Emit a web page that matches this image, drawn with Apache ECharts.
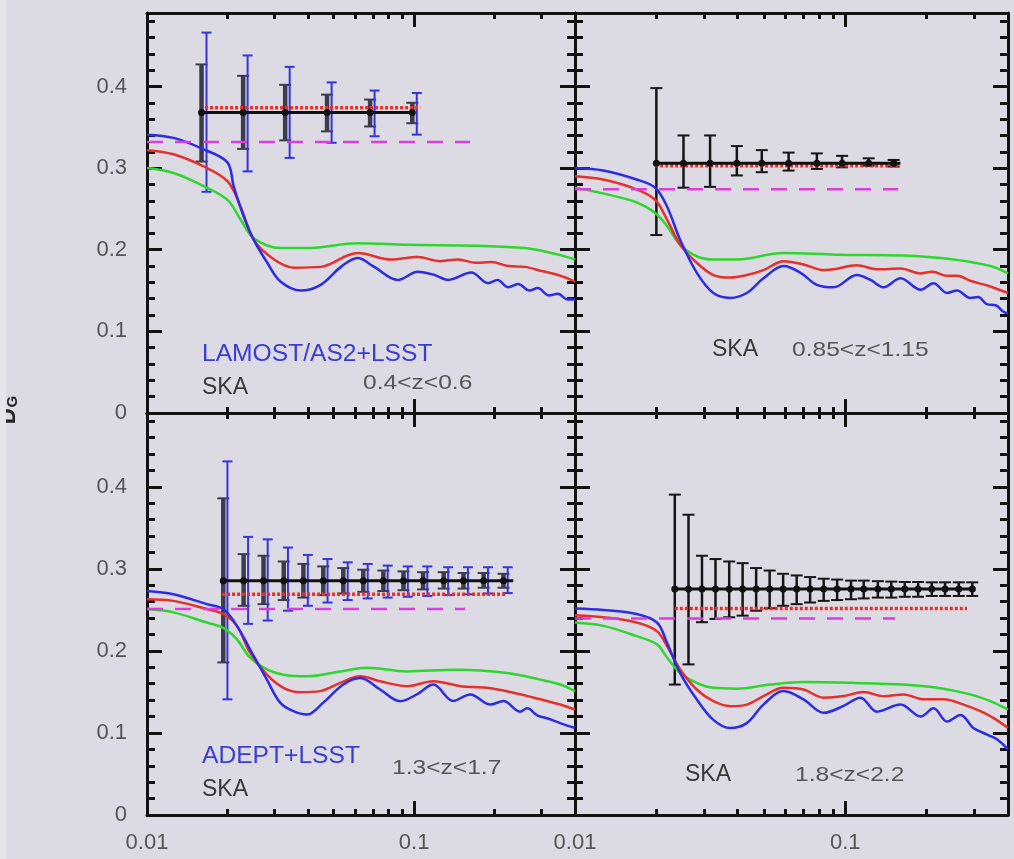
<!DOCTYPE html>
<html>
<head>
<meta charset="utf-8">
<script src="https://cdn.jsdelivr.net/npm/echarts@6/dist/echarts.min.js"></script>
<style>
  html, body { margin: 0; padding: 0; background: #dcdae3; }
  #chart { width: 1014px; height: 859px; }
</style>
</head>
<body>
<div id="chart"></div>
<script>
// ---------- axis ticks ----------
const xLabels = [0.01, 0.1];
const xMajor = [0.1];
const xMinor = [0.02, 0.03, 0.04, 0.05, 0.06, 0.07, 0.08, 0.09, 0.2, 0.3];
const yLabels = [0, 0.1, 0.2, 0.3, 0.4];
const yMajor = [0.1, 0.2, 0.3, 0.4];
const yMinor = [0.02, 0.04, 0.06, 0.08, 0.12, 0.14, 0.16, 0.18, 0.22, 0.24, 0.26, 0.28,
                0.32, 0.34, 0.36, 0.38, 0.42, 0.44, 0.46, 0.48];

// ---------- top left: 0.4<z<0.6 ----------
const tlBlue = [[0.01, 0.341], [0.01256, 0.337], [0.0163, 0.323], [0.02, 0.307], [0.0211, 0.278],
  [0.023, 0.241], [0.0251, 0.212], [0.0282, 0.184], [0.0316, 0.161], [0.0376, 0.150], [0.0447, 0.157],
  [0.0532, 0.179], [0.0614, 0.190], [0.0709, 0.179], [0.0869, 0.163], [0.1032, 0.173], [0.1192, 0.169],
  [0.1339, 0.163], [0.1637, 0.172], [0.189, 0.159], [0.205, 0.163], [0.225, 0.154], [0.245, 0.158],
  [0.27, 0.150], [0.29, 0.153], [0.32, 0.144], [0.345, 0.146], [0.375, 0.139], [0.40, 0.139]];
const tlRed = [[0.01, 0.322], [0.01256, 0.317], [0.0163, 0.302], [0.02, 0.284], [0.0224, 0.253],
  [0.0251, 0.212], [0.0299, 0.188], [0.0355, 0.178], [0.0447, 0.179], [0.0614, 0.196], [0.082, 0.188],
  [0.1032, 0.191], [0.125, 0.186], [0.146, 0.188], [0.17, 0.184], [0.1946, 0.185], [0.225, 0.180],
  [0.26, 0.179], [0.30, 0.174], [0.346, 0.169], [0.40, 0.161]];
const tlGreen = [[0.01, 0.300], [0.01256, 0.294], [0.0163, 0.278], [0.02, 0.261], [0.0224, 0.237],
  [0.0251, 0.214], [0.0316, 0.202], [0.0398, 0.202], [0.0614, 0.208], [0.0947, 0.206], [0.1686, 0.205],
  [0.26, 0.202], [0.346, 0.194], [0.40, 0.188]];
const tlMagenta = [[0.01, 0.332], [0.162, 0.332]];
const tlDotted = [[0.0165, 0.374], [0.1055, 0.374]];
const tlMid = 0.368;
const tlMidSpan = [0.016, 0.1];
const tlBlackX = [0.016, 0.0229, 0.0329, 0.0472, 0.0684, 0.0984];
const tlBlack = [[0.308, 0.427], [0.3235, 0.413], [0.334, 0.402], [0.345, 0.390], [0.351, 0.384], [0.355, 0.380]];
const tlBlueX = [0.0167, 0.0238, 0.0342, 0.0491, 0.0711, 0.1023];
const tlBlueBars = [[0.271, 0.466], [0.296, 0.438], [0.3125, 0.424], [0.331, 0.405], [0.339, 0.395], [0.341, 0.392]];

// ---------- top right: 0.85<z<1.15 ----------
const trBlue = [[0.01, 0.300], [0.0127, 0.297], [0.0169, 0.286], [0.0198, 0.276], [0.0219, 0.253],
  [0.0245, 0.212], [0.0282, 0.172], [0.0325, 0.147], [0.0375, 0.141], [0.0432, 0.147], [0.0498, 0.165],
  [0.0591, 0.180], [0.0681, 0.172], [0.0785, 0.157], [0.0905, 0.154], [0.1104, 0.169], [0.124, 0.163],
  [0.1387, 0.154], [0.16, 0.165], [0.19, 0.151], [0.212, 0.159], [0.238, 0.147], [0.259, 0.150],
  [0.29, 0.141], [0.31, 0.142], [0.335, 0.133], [0.36, 0.132], [0.385, 0.124], [0.40, 0.122]];
const trRed = [[0.01, 0.290], [0.0127, 0.286], [0.0169, 0.274], [0.0198, 0.261], [0.0219, 0.237],
  [0.0245, 0.206], [0.0282, 0.184], [0.0325, 0.169], [0.0375, 0.166], [0.0432, 0.169], [0.0498, 0.175],
  [0.0591, 0.186], [0.0701, 0.182], [0.0832, 0.175], [0.0905, 0.176], [0.1104, 0.181], [0.131, 0.176],
  [0.16, 0.177], [0.19, 0.171], [0.21, 0.173], [0.238, 0.168], [0.26, 0.168], [0.29, 0.162],
  [0.344, 0.155], [0.40, 0.147]];
const trGreen = [[0.01, 0.276], [0.0127, 0.269], [0.0169, 0.258], [0.0198, 0.245], [0.0219, 0.229],
  [0.0245, 0.206], [0.0282, 0.192], [0.0325, 0.188], [0.0397, 0.188], [0.0591, 0.196], [0.093, 0.194],
  [0.164, 0.193], [0.252, 0.188], [0.344, 0.180], [0.40, 0.171]];
const trMagenta = [[0.01, 0.274], [0.157, 0.274]];
const trDotted = [[0.0198, 0.303], [0.157, 0.303]];
const trMid = 0.306;
const trMidSpan = [0.0198, 0.160];
const trBlackX = [0.02, 0.0252, 0.0316, 0.0397, 0.0491, 0.0617, 0.0785, 0.0973, 0.122, 0.151];
const trBlack = [[0.218, 0.398], [0.276, 0.340], [0.277, 0.340], [0.291, 0.327], [0.295, 0.322],
  [0.297, 0.319], [0.299, 0.318], [0.301, 0.315], [0.303, 0.312], [0.302, 0.310]];

// ---------- bottom left: 1.3<z<1.7 ----------
const blBlue = [[0.01, 0.273], [0.01256, 0.269], [0.01675, 0.257], [0.0193, 0.251], [0.0217, 0.2305],
  [0.0243, 0.202], [0.0281, 0.165], [0.0315, 0.137], [0.0353, 0.1265], [0.0397, 0.1224], [0.0457, 0.137],
  [0.0543, 0.159], [0.0628, 0.167], [0.0746, 0.153], [0.0887, 0.1387], [0.1024, 0.147], [0.118, 0.159],
  [0.14, 0.139], [0.162, 0.147], [0.193, 0.1346], [0.216, 0.139], [0.249, 0.126], [0.265, 0.130],
  [0.29, 0.121], [0.314, 0.118], [0.352, 0.112], [0.40, 0.106]];
const blRed = [[0.01, 0.263], [0.01256, 0.261], [0.01675, 0.251], [0.0193, 0.245], [0.0217, 0.2305],
  [0.0243, 0.198], [0.0281, 0.171], [0.0324, 0.155], [0.0374, 0.1497], [0.0445, 0.151], [0.0529, 0.161],
  [0.0628, 0.169], [0.0746, 0.163], [0.094, 0.157], [0.118, 0.163], [0.149, 0.157], [0.187, 0.155],
  [0.2355, 0.149], [0.2966, 0.141], [0.352, 0.1346], [0.40, 0.1285]];
const blGreen = [[0.01, 0.251], [0.01256, 0.247], [0.01675, 0.2346], [0.0193, 0.228], [0.0217, 0.214],
  [0.0243, 0.192], [0.0281, 0.1775], [0.0324, 0.171], [0.0397, 0.169], [0.0529, 0.175], [0.0665, 0.1795],
  [0.094, 0.175], [0.1445, 0.177], [0.2225, 0.173], [0.2966, 0.165], [0.352, 0.159], [0.40, 0.151]];
const blMagenta = [[0.01, 0.251], [0.155, 0.251]];
const blDotted = [[0.0191, 0.269], [0.222, 0.269]];
const blMid = 0.2856;
const blMidSpan = [0.0188, 0.235];
const blBlackX = [0.0193, 0.023, 0.0273, 0.0325, 0.0385, 0.0457, 0.0543, 0.0645, 0.0767, 0.0912,
  0.108, 0.129, 0.153, 0.182, 0.216];
const blBlack = [[0.186, 0.386], [0.255, 0.318], [0.257, 0.316], [0.262, 0.309], [0.265, 0.306],
  [0.268, 0.303], [0.270, 0.301], [0.272, 0.299], [0.273, 0.298], [0.274, 0.297], [0.275, 0.296],
  [0.276, 0.296], [0.276, 0.295], [0.277, 0.295], [0.277, 0.294]];
const blBlueX = [0.02, 0.0239, 0.0283, 0.0337, 0.04, 0.0474, 0.0564, 0.067, 0.0796, 0.0947,
  0.112, 0.134, 0.159, 0.189, 0.224];
const blBlueBars = [[0.141, 0.431], [0.233, 0.339], [0.237, 0.336], [0.249, 0.326], [0.255, 0.317],
  [0.259, 0.312], [0.262, 0.308], [0.264, 0.306], [0.265, 0.304], [0.266, 0.303], [0.267, 0.303],
  [0.268, 0.302], [0.269, 0.302], [0.270, 0.302], [0.2705, 0.302]];

// ---------- bottom right: 1.8<z<2.2 ----------
const brBlue = [[0.01, 0.2518], [0.01274, 0.250], [0.0169, 0.245], [0.0201, 0.2346], [0.0219, 0.210],
  [0.0245, 0.173], [0.0282, 0.141], [0.0325, 0.116], [0.0375, 0.106], [0.0432, 0.112], [0.0498, 0.1346],
  [0.059, 0.151], [0.070, 0.141], [0.0832, 0.1245], [0.0986, 0.133], [0.1137, 0.143], [0.131, 0.126],
  [0.16, 0.1346], [0.19, 0.120], [0.212, 0.130], [0.238, 0.114], [0.267, 0.122], [0.298, 0.106],
  [0.335, 0.098], [0.365, 0.092], [0.40, 0.080]];
const brRed = [[0.01, 0.2436], [0.01274, 0.241], [0.0169, 0.2346], [0.0201, 0.224], [0.0219, 0.206],
  [0.0245, 0.1775], [0.0282, 0.153], [0.0325, 0.1387], [0.0375, 0.1326], [0.0432, 0.1346],
  [0.0498, 0.1448], [0.059, 0.155], [0.070, 0.153], [0.0832, 0.143], [0.0986, 0.145], [0.117, 0.150],
  [0.139, 0.1448], [0.164, 0.147], [0.195, 0.141], [0.231, 0.141], [0.274, 0.1346], [0.316, 0.1265],
  [0.354, 0.118], [0.40, 0.106]];
const brGreen = [[0.01, 0.2346], [0.01274, 0.2305], [0.0169, 0.218], [0.0201, 0.208], [0.0219, 0.192],
  [0.0245, 0.173], [0.0282, 0.161], [0.0325, 0.155], [0.0397, 0.154], [0.0527, 0.159], [0.070, 0.162],
  [0.1074, 0.161], [0.164, 0.159], [0.219, 0.155], [0.29, 0.147], [0.344, 0.1387], [0.40, 0.1285]];
const brMagenta = [[0.01, 0.2395], [0.153, 0.2395]];
const brDotted = [[0.0234, 0.2518], [0.282, 0.2518]];
const brMid = 0.2754;
const brMidSpan = [0.0234, 0.303];
const brBlackX = [0.0234, 0.0263, 0.0295, 0.0331, 0.0372, 0.0417, 0.0468, 0.0525, 0.0589, 0.0661,
  0.0741, 0.0832, 0.0933, 0.105, 0.117, 0.132, 0.148, 0.166, 0.186, 0.209, 0.234, 0.263, 0.295];
const brBlack = [[0.159, 0.3905], [0.1836, 0.366], [0.235, 0.316], [0.239, 0.312], [0.241, 0.309],
  [0.243, 0.307], [0.249, 0.301], [0.252, 0.298], [0.255, 0.294], [0.257, 0.292], [0.259, 0.290],
  [0.261, 0.288], [0.262, 0.287], [0.263, 0.2857], [0.264, 0.2857], [0.265, 0.285], [0.265, 0.2845],
  [0.266, 0.284], [0.266, 0.284], [0.267, 0.2836], [0.267, 0.2836], [0.267, 0.2836], [0.267, 0.2836]];

// ---------- layout ----------
const grids = [
  {left: 147, top: 13, width: 428, height: 400},
  {left: 575, top: 13, width: 433, height: 400},
  {left: 147, top: 413, width: 428, height: 402},
  {left: 575, top: 413, width: 433, height: 402}
];

const panels = [
  {blue: tlBlue, red: tlRed, green: tlGreen, magenta: tlMagenta, dotted: tlDotted, mid: tlMid, midSpan: tlMidSpan,
    blackX: tlBlackX, black: tlBlack, blueX: tlBlueX, blueBars: tlBlueBars, xl: false, yl: true, heavy: true},
  {blue: trBlue, red: trRed, green: trGreen, magenta: trMagenta, dotted: trDotted, mid: trMid, midSpan: trMidSpan,
    blackX: trBlackX, black: trBlack, xl: false, yl: false, heavy: false},
  {blue: blBlue, red: blRed, green: blGreen, magenta: blMagenta, dotted: blDotted, mid: blMid, midSpan: blMidSpan,
    blackX: blBlackX, black: blBlack, blueX: blBlueX, blueBars: blBlueBars, xl: true, yl: true, heavy: true},
  {blue: brBlue, red: brRed, green: brGreen, magenta: brMagenta, dotted: brDotted, mid: brMid, midSpan: brMidSpan,
    blackX: brBlackX, black: brBlack, xl: true, yl: false, heavy: false}
];

const FONT = '"Liberation Sans", Arial, sans-serif';
const tickStyle = {color: '#111', width: 3};
const labelStyle = {color: '#555', fontSize: 22, fontFamily: FONT};

function makeXAxes(g, withLabels) {
  const base = {type: 'log', logBase: 10, gridIndex: g, min: 0.01, max: 0.4, splitLine: {show: false}};
  const major = (pos, labels) => ({
    ...base, position: pos,
    axisLine: {show: true, onZero: false, lineStyle: tickStyle},
    axisTick: {show: true, inside: true, length: 14, customValues: xMajor, lineStyle: tickStyle},
    axisLabel: {show: labels, customValues: xLabels, margin: 17, ...labelStyle,
      formatter: v => (v < 0.05 ? '0.01' : '0.1')}
  });
  const minor = pos => ({
    ...base, position: pos,
    axisLine: {show: false, onZero: false},
    axisTick: {show: true, inside: true, length: 6, customValues: xMinor, lineStyle: tickStyle},
    axisLabel: {show: false}
  });
  return [major('bottom', withLabels), minor('bottom'), major('top', false), minor('top')];
}

function makeYAxes(g, withLabels) {
  const base = {type: 'value', gridIndex: g, min: 0, max: 0.49, splitLine: {show: false}};
  const major = (pos, labels) => ({
    ...base, position: pos,
    axisLine: {show: true, onZero: false, lineStyle: tickStyle},
    axisTick: {show: true, inside: true, length: 15, customValues: yMajor, lineStyle: tickStyle},
    axisLabel: {show: labels, customValues: yLabels, margin: 20, ...labelStyle,
      formatter: v => (v === 0 ? '0' : v.toFixed(1))}
  });
  const minor = pos => ({
    ...base, position: pos,
    axisLine: {show: false, onZero: false},
    axisTick: {show: true, inside: true, length: 8, customValues: yMinor, lineStyle: tickStyle},
    axisLabel: {show: false}
  });
  return [major('left', withLabels), minor('left'), major('right', false), minor('right')];
}

// vertical error bar with caps, placed through the axis scales
function errorBars(color, width, cap) {
  return function (params, api) {
    const lo = api.coord([api.value(0), api.value(1)]);
    const hi = api.coord([api.value(0), api.value(2)]);
    const capStyle = {stroke: color, lineWidth: 2};
    return {
      type: 'group',
      children: [
        {type: 'line', shape: {x1: lo[0], y1: lo[1], x2: hi[0], y2: hi[1]}, style: {stroke: color, lineWidth: width}},
        {type: 'line', shape: {x1: lo[0] - cap, y1: lo[1], x2: lo[0] + cap, y2: lo[1]}, style: capStyle},
        {type: 'line', shape: {x1: hi[0] - cap, y1: hi[1], x2: hi[0] + cap, y2: hi[1]}, style: capStyle}
      ]
    };
  };
}

const xAxis = [];
const yAxis = [];
const series = [];

panels.forEach((p, g) => {
  xAxis.push(...makeXAxes(g, p.xl));
  yAxis.push(...makeYAxes(g, p.yl));
  const ax = {xAxisIndex: 4 * g, yAxisIndex: 4 * g};
  const curve = (data, color) => ({
    type: 'line', ...ax, data, symbol: 'none', smooth: 0.35,
    lineStyle: {color, width: 2.5}
  });
  series.push(curve(p.green, '#2fd62f'));
  series.push(curve(p.red, '#e5302c'));
  series.push(curve(p.blue, '#2c2ce4'));
  series.push({type: 'line', ...ax, data: p.magenta, symbol: 'none',
    lineStyle: {color: '#dc3ddc', width: 2.5, type: [16, 12]}});
  series.push({type: 'line', ...ax, data: p.dotted, symbol: 'none',
    lineStyle: {color: '#e5302c', width: 3.5, type: [3, 2]}});
  series.push({type: 'custom', ...ax, encode: {x: 0, y: [1, 2]},
    renderItem: errorBars(p.heavy ? '#3c3c4c' : '#151515', p.heavy ? 4.5 : 2.5, 6),
    data: p.blackX.map((x, i) => [x, p.black[i][0], p.black[i][1]])});
  if (p.blueX) {
    series.push({type: 'custom', ...ax, encode: {x: 0, y: [1, 2]},
      renderItem: errorBars('#3434e0', 2, 5),
      data: p.blueX.map((x, i) => [x, p.blueBars[i][0], p.blueBars[i][1]])});
  }
  const midData = [{value: [p.midSpan[0], p.mid], symbol: 'none'}]
    .concat(p.blackX.map(x => [x, p.mid]))
    .concat([{value: [p.midSpan[1], p.mid], symbol: 'none'}]);
  series.push({type: 'line', ...ax, data: midData, symbol: 'circle', symbolSize: 7,
    itemStyle: {color: '#111'}, lineStyle: {color: '#111', width: 3}});
});

// panel annotations
const notes = [
  {text: 'LAMOST/AS2+LSST', x: 202, y: 355, fill: '#3b3bd6', size: 23, sx: 1.07},
  {text: 'SKA', x: 202, y: 388, fill: '#383838', size: 23, sx: 1.0},
  {text: '0.4<z<0.6', x: 363, y: 383, fill: '#555', size: 21, sx: 1.17},
  {text: 'SKA', x: 712, y: 350, fill: '#383838', size: 23, sx: 1.0},
  {text: '0.85<z<1.15', x: 792, y: 350, fill: '#555', size: 21, sx: 1.17},
  {text: 'ADEPT+LSST', x: 202, y: 757, fill: '#3b3bd6', size: 23, sx: 1.07},
  {text: 'SKA', x: 202, y: 790, fill: '#383838', size: 23, sx: 1.0},
  {text: '1.3<z<1.7', x: 392, y: 768, fill: '#555', size: 21, sx: 1.17},
  {text: 'SKA', x: 685, y: 775, fill: '#383838', size: 23, sx: 1.0},
  {text: '1.8<z<2.2', x: 795, y: 775, fill: '#555', size: 21, sx: 1.17}
];

const graphic = notes.map(n => ({
  type: 'text', x: n.x, y: n.y, scaleX: n.sx, z: 100,
  style: {text: n.text, fill: n.fill, font: n.size + 'px ' + FONT, verticalAlign: 'middle'}
}));
graphic.push({
  type: 'text', x: 9, y: 410, rotation: Math.PI / 2, z: 100,
  style: {
    text: '{a|D}{b|G}', align: 'center', verticalAlign: 'middle',
    rich: {
      a: {font: 'bold 22px ' + FONT, fill: '#222'},
      b: {font: 'bold 15px ' + FONT, fill: '#222', padding: [8, 0, 0, 1]}
    }
  }
});
graphic.push({type: 'rect', shape: {x: 0, y: 0, width: 6, height: 859}, style: {fill: '#e6e5ec'}, z: 101});

const chart = echarts.init(document.getElementById('chart'));
chart.setOption({
  backgroundColor: '#dcdae3',
  animation: false,
  grid: grids.map(r => ({...r, containLabel: false})),
  xAxis,
  yAxis,
  series,
  graphic
});
</script>
</body>
</html>
